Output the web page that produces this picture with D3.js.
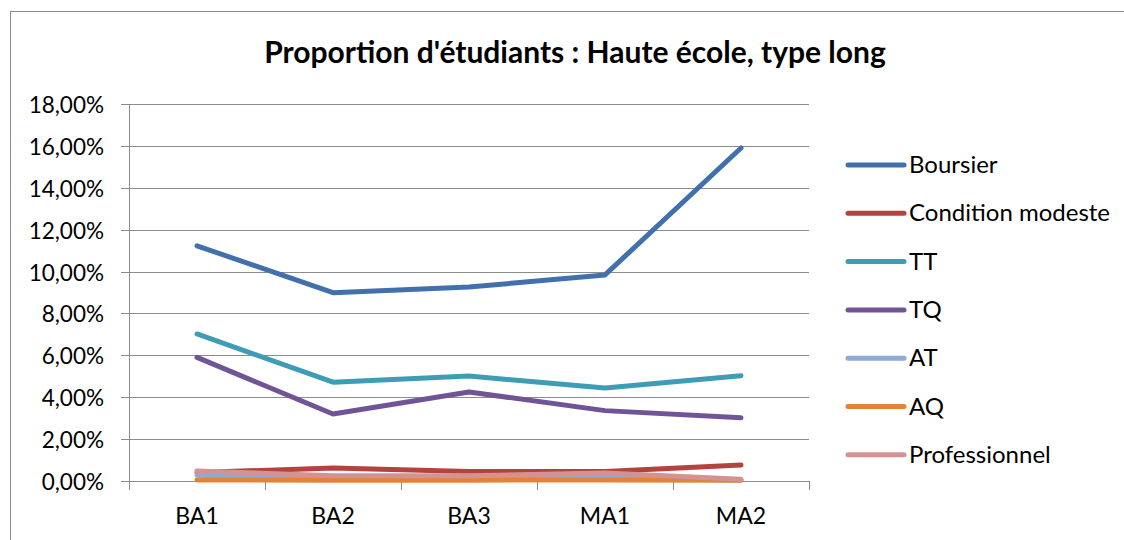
<!DOCTYPE html>
<html>
<head>
<meta charset="utf-8">
<script src="https://cdn.jsdelivr.net/npm/d3@7/dist/d3.min.js"></script>
<style>
  body { margin: 0; background: #fff; }
  svg { font-family: Lato, "Open Sans", sans-serif; }
</style>
</head>
<body>
<div id="main"></div>
<script>
// categories (x axis) //
const years = ['BA1', 'BA2', 'BA3', 'MA1', 'MA2'];

// series values, in percent //
const boursier     = [11.23, 8.99, 9.26, 9.84, 15.90];
const condModeste  = [0.40, 0.62, 0.45, 0.45, 0.76];
const tt           = [7.02, 4.72, 5.01, 4.44, 5.03];
const tq           = [5.90, 3.20, 4.25, 3.36, 3.02];
const at           = [0.28, 0.13, 0.13, 0.20, 0.04];
const aq           = [0.05, 0.04, 0.04, 0.05, 0.04];
const professionnel = [0.48, 0.25, 0.25, 0.38, 0.08];

const seriesNames = ['Boursier', 'Condition modeste', 'TT', 'TQ', 'AT', 'AQ', 'Professionnel'];
const seriesValues = [boursier, condModeste, tt, tq, at, aq, professionnel];
const colors = ['#4170ad', '#b2433f', '#3f9cb6', '#6f5597', '#8faad3', '#e4823a', '#d49392'];

// y tick values //
const yTicks = [0, 2, 4, 6, 8, 10, 12, 14, 16, 18];

const w = 1124;
const h = 540;

const svg = d3.select('#main')
            .append('svg')
            .attr('width', w)
            .attr('height', h);

// chart area border
svg.append('rect')
    .attr('x', 10.5).attr('y', 11.5)
    .attr('width', w + 20).attr('height', h + 20)
    .attr('fill', 'none')
    .attr('stroke', '#8c8c8c')
    .attr('stroke-width', 1);

// title
svg.append('text')
    .attr('x', 575).attr('y', 63)
    .attr('text-anchor', 'middle')
    .attr('font-size', 30)
    .attr('font-weight', 'bold')
    .text("Proportion d'étudiants : Haute école, type long");

// scales //
const x = d3.scaleBand()
            .domain(years)
            .range([129, 809]);

const y = d3.scaleLinear()
            .domain([0, 18])
            .range([481, 104]);

// gridlines
svg.append('g')
    .selectAll('line')
    .data(yTicks)
    .enter()
    .append('line')
    .attr('x1', 121).attr('x2', 809)
    .attr('y1', d => Math.round(y(d)) + 0.5)
    .attr('y2', d => Math.round(y(d)) + 0.5)
    .attr('stroke', '#8c8c8c');

// y labels
svg.append('g')
    .selectAll('text')
    .data(yTicks)
    .enter()
    .append('text')
    .attr('x', 104)
    .attr('y', d => y(d) + 9)
    .attr('text-anchor', 'end')
    .attr('font-size', 22.5)
    .text(d => d3.format('.2f')(d).replace('.', ',') + '%');

// y axis line
svg.append('line')
    .attr('x1', 129.5).attr('x2', 129.5)
    .attr('y1', 104).attr('y2', 481)
    .attr('stroke', '#8c8c8c');

// x axis ticks at band edges
const edges = years.map(d => x(d)).concat([x.range()[1]]);
svg.append('g')
    .selectAll('line')
    .data(edges)
    .enter()
    .append('line')
    .attr('x1', d => Math.round(d) + 0.5)
    .attr('x2', d => Math.round(d) + 0.5)
    .attr('y1', 481).attr('y2', 490)
    .attr('stroke', '#8c8c8c');

// x labels
svg.append('g')
    .selectAll('text')
    .data(years)
    .enter()
    .append('text')
    .attr('x', d => x(d) + x.bandwidth() / 2)
    .attr('y', 524)
    .attr('text-anchor', 'middle')
    .attr('font-size', 23)
    .text(d => d);

// lines //
const line = d3.line()
                .x((d, i) => x(years[i]) + x.bandwidth() / 2)
                .y(d => y(d));

svg.append('g')
    .selectAll('path')
    .data(seriesValues)
    .enter()
    .append('path')
    .attr('d', line)
    .attr('fill', 'none')
    .attr('stroke', (d, i) => colors[i])
    .attr('stroke-width', 5)
    .attr('stroke-linejoin', 'round')
    .attr('stroke-linecap', 'round');

// legend //
const legend = svg.append('g')
                .selectAll('g')
                .data(seriesNames)
                .enter()
                .append('g')
                .attr('transform', (d, i) => `translate(0, ${165 + i * 48.3})`);

legend.append('line')
    .attr('x1', 848).attr('x2', 904)
    .attr('y1', 0).attr('y2', 0)
    .attr('stroke', (d, i) => colors[i])
    .attr('stroke-width', 5)
    .attr('stroke-linecap', 'round');

legend.append('text')
    .attr('x', 909)
    .attr('y', 8)
    .attr('font-size', 24)
    .text(d => d);
</script>
</body>
</html>
